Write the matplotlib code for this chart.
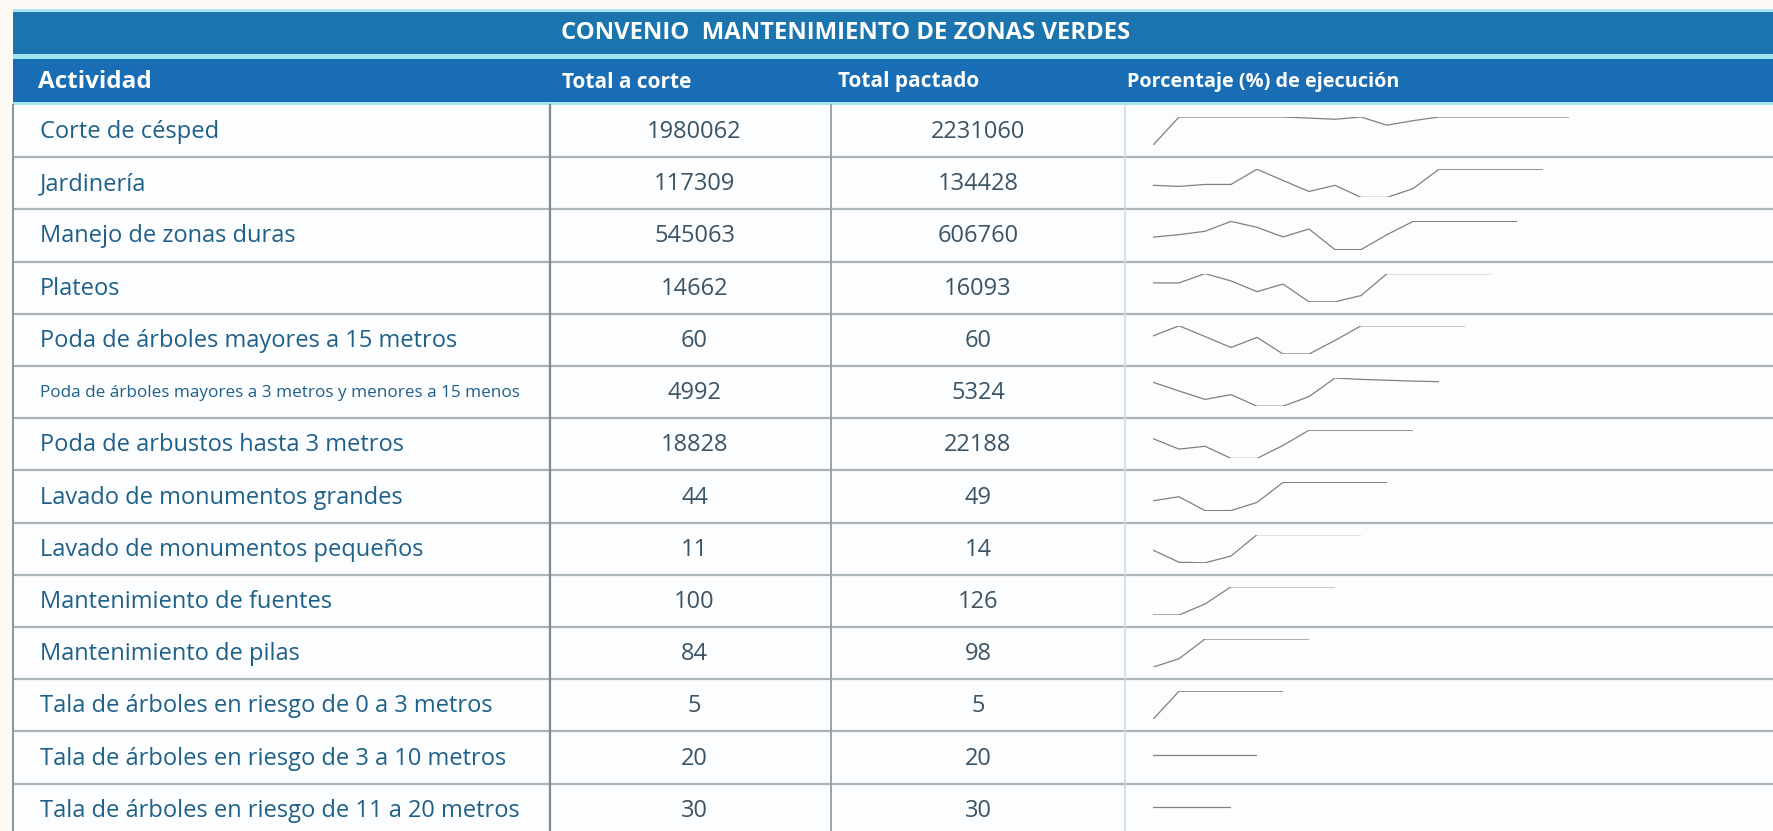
import matplotlib
matplotlib.use('Agg')
import matplotlib.pyplot as plt
from matplotlib.patches import Rectangle

# datos de la tabla
titulo = 'CONVENIO  MANTENIMIENTO DE ZONAS VERDES'
encabezados = ['Actividad', 'Total a corte', 'Total pactado', 'Porcentaje (%) de ejecución']
actividades = [
    'Corte de césped',
    'Jardinería',
    'Manejo de zonas duras',
    'Plateos',
    'Poda de árboles mayores a 15 metros',
    'Poda de árboles mayores a 3 metros y menores a 15 menos',
    'Poda de arbustos hasta 3 metros',
    'Lavado de monumentos grandes',
    'Lavado de monumentos pequeños',
    'Mantenimiento de fuentes',
    'Mantenimiento de pilas',
    'Tala de árboles en riesgo de 0 a 3 metros',
    'Tala de árboles en riesgo de 3 a 10 metros',
    'Tala de árboles en riesgo de 11 a 20 metros',
]
total_corte = [1980062, 117309, 545063, 14662, 60, 4992, 18828, 44, 11, 100, 84, 5, 20, 30]
total_pactado = [2231060, 134428, 606760, 16093, 60, 5324, 22188, 49, 14, 126, 98, 5, 20, 30]

# sparklines (nivel relativo de ejecución, 0-100)
sp_cesped = [0, 100, 100, 100, 100, 100, 96, 92, 100, 71, 87, 100, 100, 100, 100, 100, 100]
sp_jardineria = [43, 39, 46, 46, 100, 60, 21, 43, 0, 0, 31, 100, 100, 100, 100, 100]
sp_zonas_duras = [44, 53, 65, 100, 79, 45, 73, 0, 0, 53, 100, 100, 100, 100, 100]
sp_plateos = [67, 67, 100, 74, 36, 63, 0, 0, 22, 100, 100, 100, 100, 100]
sp_poda_15 = [64, 100, 62, 23, 59, 0, 0, 48, 100, 100, 100, 100, 100]
sp_poda_3_15 = [85, 54, 24, 41, 0, 0, 34, 100, 95, 92, 89, 87]
sp_arbustos = [70, 33, 43, 0, 0, 46, 100, 100, 100, 100, 100]
sp_mon_grandes = [35, 49, 0, 0, 29, 100, 100, 100, 100, 100]
sp_mon_pequenos = [45, 2, 0, 24, 100, 100, 100, 100, 100]
sp_fuentes = [0, 0, 39, 100, 100, 100, 100, 100]
sp_pilas = [0, 30, 100, 100, 100, 100, 100]
sp_tala_0_3 = [0, 100, 100, 100, 100, 100]
sp_tala_3_10 = [100, 100, 100, 100, 100]
sp_tala_11_20 = [100, 100, 100, 100]
sparklines = [sp_cesped, sp_jardineria, sp_zonas_duras, sp_plateos, sp_poda_15,
              sp_poda_3_15, sp_arbustos, sp_mon_grandes, sp_mon_pequenos, sp_fuentes,
              sp_pilas, sp_tala_0_3, sp_tala_3_10, sp_tala_11_20]

W, H = 1773, 831
plt.rcParams['font.family'] = ['Open Sans', 'DejaVu Sans']

fig = plt.figure(figsize=(W / 100, H / 100), dpi=100)
fig.patch.set_facecolor('#fdf9f5')
ax = fig.add_axes([0, 0, 1, 1])
ax.set_xlim(0, W)
ax.set_ylim(H, 0)
ax.axis('off')

xl, c1, c2, c3, xr = 13, 550, 831, 1125, W
row_top0, row_h = 105, 52.2
n = len(actividades)

# bandas de encabezado
ax.add_patch(Rectangle((xl, 9), xr - xl, 3, color='#a6e4f2', lw=0))
ax.add_patch(Rectangle((xl, 12), xr - xl, 42, color='#1b74ae', lw=0))
ax.add_patch(Rectangle((xl, 54), xr - xl, 5, color='#9fe6f4', lw=0))
ax.add_patch(Rectangle((xl, 59), xr - xl, 43, color='#196db4', lw=0))
ax.add_patch(Rectangle((xl, 102), xr - xl, 3, color='#a6e4f2', lw=0))
ax.add_patch(Rectangle((xl, 105), xr - xl, H - 105, color='#fcfdfe', lw=0))

ax.text(846, 33, titulo, color='white', fontsize=17.2, fontweight='bold',
        ha='center', va='center')
hx = [38, 562, 838, 1127]
hfs = [17.5, 15, 15, 14.3]
for x, t, f in zip(hx, encabezados, hfs):
    ax.text(x, 82, t, color='white', fontsize=f, fontweight='bold',
            ha='left', va='center')

# filas
for i in range(n):
    top = row_top0 + i * row_h
    yc = top + row_h / 2
    if i > 0:
        ax.plot([xl, xr], [top, top], color='#aab4b8', lw=1.6, solid_capstyle='butt')
    fs = 12.3 if i == 5 else 17
    ax.text(40, yc + 1, actividades[i], color='#1f6088', fontsize=fs, ha='left', va='center')
    ax.text((c1 + c2) / 2 + 4, yc + 1, str(total_corte[i]), color='#3b5364', fontsize=17,
            ha='center', va='center')
    ax.text((c2 + c3) / 2, yc + 1, str(total_pactado[i]), color='#3b5364', fontsize=17,
            ha='center', va='center')

# lineas verticales
ax.plot([xl, xl], [105, H], color='#8e999e', lw=1.5)
ax.plot([c1, c1], [105, H], color='#7f8a90', lw=1.6)
ax.plot([c2, c2], [105, H], color='#98a2a7', lw=1.4)
ax.plot([c3, c3], [105, H], color='#c9dde5', lw=1.2)

# sparklines, una por fila
x0, step, pad = 1153, 26, 12
for i, vals in enumerate(sparklines):
    top = row_top0 + i * row_h
    bot = top + row_h
    npts = len(vals)
    width = step * (npts - 1)
    sax = fig.add_axes([x0 / W, 1 - (bot - pad) / H, width / W, (row_h - 2 * pad) / H])
    sax.plot(range(npts), vals, color='#808080', lw=0.9)
    sax.set_xlim(0, npts - 1)
    if min(vals) == max(vals):
        sax.set_ylim(vals[0] - 60, vals[0] + 40)
    else:
        sax.set_ylim(0, 100)
    sax.axis('off')
    sax.patch.set_alpha(0)

fig.savefig('out.png', dpi=100, facecolor=fig.get_facecolor())
